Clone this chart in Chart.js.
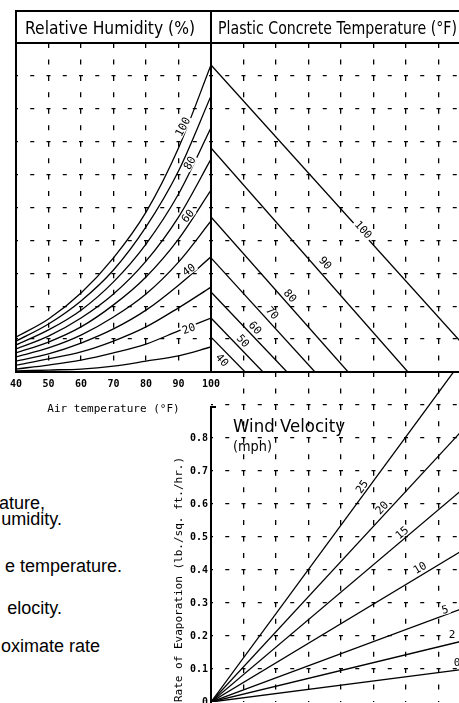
<!DOCTYPE html>
<html>
<head>
<meta charset="utf-8">
<script src="https://cdn.jsdelivr.net/npm/chart.js@4.4.1/dist/chart.umd.min.js"></script>
<style>
  html, body { margin: 0; padding: 0; background: #fff; }
  body { width: 459px; height: 703px; position: relative; overflow: hidden; }
  canvas { position: absolute; }
  .rule { position: absolute; background: #000; }
  .lbl { position: absolute; white-space: nowrap; color: #000; line-height: 1;
         font-family: "DejaVu Sans", sans-serif; transform-origin: 0 0; }
  .note { position: absolute; white-space: nowrap; color: #000; line-height: 1;
          font-family: "Liberation Sans", Arial, sans-serif; font-size: 18px; }
</style>
</head>
<body>
<canvas id="rh" width="230" height="430" style="left:0;top:0"></canvas>
<canvas id="pc" width="271" height="430" style="left:200px;top:0"></canvas>
<canvas id="wind" width="321" height="360" style="left:150px;top:360px"></canvas>

<!-- frames -->
<div class="rule" style="left:15px;top:10px;width:450px;height:2px"></div>
<div class="rule" style="left:15px;top:42px;width:450px;height:1.6px"></div>
<div class="rule" style="left:15px;top:10px;width:2px;height:363px"></div>
<div class="rule" style="left:210px;top:10px;width:1.8px;height:363px"></div>
<div class="rule" style="left:15px;top:371px;width:450px;height:2px"></div>
<div class="rule" style="left:210px;top:406px;width:1.8px;height:300px"></div>
<div class="rule" style="left:210px;top:406px;width:6px;height:1.5px"></div>

<div class="lbl" data-w="170" style="left:25px;top:20px;font-size:17px">Relative Humidity (%)</div>
<div class="lbl" data-w="239" style="left:218px;top:20px;font-size:17px">Plastic Concrete Temperature (°F)</div>
<div class="lbl" data-w="112" style="left:233px;top:418px;font-size:17px">Wind Velocity</div>
<div class="lbl" data-w="39" style="left:233px;top:439px;font-size:14px">(mph)</div>

<div class="note" style="right:414px;top:494px">ature,</div>
<div class="note" style="right:397px;top:510px">umidity.</div>
<div class="note" style="right:337px;top:557px">e temperature.</div>
<div class="note" style="right:397px;top:599px">elocity.</div>
<div class="note" style="right:359px;top:637px">oximate rate</div>

<script>
// ---- data ----
// top-left: relative humidity curves, y = vapour pressure level (grid units of 0.1)
const airTemps = [40, 50, 60, 70, 80, 90, 100];
const rhLevels = [100, 90, 80, 70, 60, 50, 40, 30, 20, 10];
const rh100 = [0.106, 0.161, 0.240, 0.347, 0.486, 0.681, 0.933];
const rh90  = [0.094, 0.146, 0.216, 0.310, 0.441, 0.611, 0.839];
const rh80  = [0.082, 0.128, 0.188, 0.274, 0.389, 0.541, 0.742];
const rh70  = [0.070, 0.109, 0.164, 0.237, 0.337, 0.471, 0.647];
const rh60  = [0.058, 0.091, 0.137, 0.204, 0.289, 0.404, 0.553];
const rh50  = [0.046, 0.073, 0.112, 0.167, 0.237, 0.334, 0.459];
const rh40  = [0.033, 0.055, 0.088, 0.131, 0.188, 0.264, 0.350];
const rh30  = [0.021, 0.040, 0.061, 0.094, 0.137, 0.195, 0.258];
const rh20  = [0.009, 0.021, 0.036, 0.058, 0.085, 0.125, 0.164];
const rh10  = [0.003, 0.006, 0.009, 0.018, 0.033, 0.049, 0.076];
const rhCurves = [rh100, rh90, rh80, rh70, rh60, rh50, rh40, rh30, rh20, rh10];

const rhLabelText = ['100', '80', '60', '40', '20'];
const rhLabelT    = [91.4, 93.5, 92.9, 93.2, 93.2];
const rhLabelV    = [0.745, 0.635, 0.474, 0.310, 0.131];

// top-right: plastic concrete temperature lines (start on left edge, end on bottom axis)
const concreteTemps = [40, 50, 60, 70, 80, 90, 100];
const concreteStart = [0.106, 0.164, 0.243, 0.347, 0.471, 0.681, 0.933];
const concreteEnd   = [0.105, 0.160, 0.234, 0.320, 0.422, 0.606, 0.852];
const concreteLabelX = [0.034, 0.098, 0.135, 0.188, 0.243, 0.351, 0.468];
const concreteLabelY = [0.036, 0.094, 0.134, 0.179, 0.231, 0.331, 0.432];

// bottom: wind velocity rays from the origin, rate of evaporation at x = 0.8
const windSpeeds = [0, 2, 5, 10, 15, 20, 25];
const windRateAt08 = [0.102, 0.191, 0.293, 0.475, 0.666, 0.852, 1.072];
const windLabelX = [0.757, 0.742, 0.720, 0.643, 0.588, 0.526, 0.465];
const windLabelY = [0.118, 0.203, 0.279, 0.406, 0.512, 0.588, 0.652];

const rateTicks = [0, 0.1, 0.2, 0.3, 0.4, 0.5, 0.6, 0.7, 0.8];

// ---- chart setup ----
Chart.defaults.font.family = '"DejaVu Sans Mono", monospace';
Chart.defaults.color = '#000';
Chart.defaults.animation = false;

const HDASH = [4, 12.25];
const VDASH = [5, 11.45];

function between(lo, hi) {
  return c => (c.tick && c.tick.value > lo && c.tick.value < hi) ? '#000' : 'rgba(0,0,0,0)';
}

const curveLabels = {
  id: 'curveLabels',
  afterDatasetsDraw(chart, args, opts) {
    const {ctx, scales} = chart;
    ctx.save();
    ctx.font = opts.font;
    ctx.textAlign = 'center';
    ctx.textBaseline = 'middle';
    opts.items.forEach(it => {
      const px = scales.x.getPixelForValue(it.x);
      const py = scales.y.getPixelForValue(it.y);
      ctx.save();
      ctx.translate(px, py);
      ctx.rotate(it.angle * Math.PI / 180);
      const w = ctx.measureText(it.text).width;
      ctx.fillStyle = '#fff';
      ctx.fillRect(-w / 2 - 1.5, -4.5, w + 3, 9);
      ctx.fillStyle = '#000';
      ctx.fillText(it.text, 0, 0.5);
      ctx.restore();
    });
    ctx.restore();
  }
};

function lineSet(points) {
  return {
    data: points, showLine: true, borderColor: '#000', borderWidth: 1.3,
    pointRadius: 0, fill: false
  };
}

// top-left chart
new Chart(document.getElementById('rh'), {
  type: 'scatter',
  data: {
    datasets: rhCurves.map(vals => Object.assign(lineSet(airTemps.map((t, i) => ({x: t, y: vals[i]}))),
      {cubicInterpolationMode: 'monotone'}))
  },
  options: {
    responsive: false,
    layout: {padding: {left: 16, right: 19, top: 43, bottom: 0}},
    plugins: {
      legend: {display: false}, tooltip: {enabled: false},
      curveLabels: {
        font: '11px "DejaVu Sans Mono"',
        items: rhLabelText.map((t, i) => ({text: t, x: rhLabelT[i], y: rhLabelV[i], angle: [-62, -60, -50, -35, -20][i]}))
      }
    },
    scales: {
      x: {
        type: 'linear', min: 40, max: 100,
        ticks: {stepSize: 10, padding: 6, autoSkip: false, maxRotation: 0, font: {size: 10, weight: 'bold'}},
        grid: {color: between(45, 95), lineWidth: 1.3, drawTicks: false},
        border: {display: false, dash: VDASH, dashOffset: 0},
        title: {display: true, text: 'Air temperature (°F)', font: {size: 11}, padding: {top: 0, bottom: 14}},
        afterFit: s => { s.height = 58; }
      },
      y: {
        type: 'linear', min: 0, max: 1.0,
        ticks: {stepSize: 0.1, display: false},
        grid: {color: between(0.05, 0.95), lineWidth: 1.3, drawTicks: false},
        border: {display: false, dash: HDASH, dashOffset: 2},
        afterFit: s => { s.width = 0; }
      }
    }
  },
  plugins: [curveLabels]
});

// top-right chart
new Chart(document.getElementById('pc'), {
  type: 'scatter',
  data: {
    datasets: concreteTemps.map((t, i) => lineSet([{x: 0, y: concreteStart[i]}, {x: concreteEnd[i], y: 0}]))
  },
  options: {
    responsive: false,
    layout: {padding: {left: 11, right: 0, top: 43, bottom: 0}},
    plugins: {
      legend: {display: false}, tooltip: {enabled: false},
      curveLabels: {
        font: '11px "DejaVu Sans Mono"',
        items: concreteTemps.map((t, i) => ({text: String(t), x: concreteLabelX[i], y: concreteLabelY[i], angle: 48}))
      }
    },
    scales: {
      x: {
        type: 'linear', min: 0, max: 0.8,
        ticks: {stepSize: 0.1, display: false},
        grid: {color: between(0.05, 0.75), lineWidth: 1.3, drawTicks: false},
        border: {display: false, dash: VDASH, dashOffset: 0},
        afterFit: s => { s.height = 58; }
      },
      y: {
        type: 'linear', min: 0, max: 1.0,
        ticks: {stepSize: 0.1, display: false},
        grid: {color: between(0.05, 0.95), lineWidth: 1.3, drawTicks: false},
        border: {display: false, dash: HDASH, dashOffset: 2},
        afterFit: s => { s.width = 0; }
      }
    }
  },
  plugins: [curveLabels]
});

// bottom chart
new Chart(document.getElementById('wind'), {
  type: 'scatter',
  data: {
    datasets: windSpeeds.map((w, i) => lineSet([{x: 0, y: 0}, {x: 0.8, y: windRateAt08[i]}]))
  },
  options: {
    responsive: false,
    layout: {padding: {left: 0, right: 0, top: 12, bottom: 0}},
    plugins: {
      legend: {display: false}, tooltip: {enabled: false},
      curveLabels: {
        font: '11px "DejaVu Sans Mono"',
        items: windSpeeds.map((w, i) => ({text: String(w), x: windLabelX[i], y: windLabelY[i], angle: [0, 0, -15, -31, -40, -47, -54][i]}))
      }
    },
    scales: {
      x: {
        type: 'linear', min: 0, max: 0.8,
        ticks: {stepSize: 0.1, display: false},
        grid: {color: between(0.05, 0.75), lineWidth: 1.3, drawTicks: false},
        border: {display: false, dash: VDASH, dashOffset: 0},
        afterFit: s => { s.height = 18; }
      },
      y: {
        type: 'linear', min: 0, max: 1.0,
        ticks: {
          stepSize: 0.1, padding: 3, font: {size: 10, weight: 'bold'},
          callback: v => {
            const t = rateTicks.find(r => Math.abs(r - v) < 1e-6);
            if (t === undefined) return '';
            return t === 0 ? '0' : t.toFixed(1);
          }
        },
        grid: {color: between(0.05, 0.95), lineWidth: 1.3, drawTicks: false},
        border: {display: false, dash: HDASH, dashOffset: 2},
        title: {display: true, text: 'Rate of Evaporation (lb./sq. ft./hr.)', align: 'start',
                font: {size: 11}, padding: {top: 23, bottom: 0}},
        afterFit: s => { s.width = 61; }
      }
    }
  },
  plugins: [curveLabels]
});

// squeeze the header texts to the widths they have in the drawing
document.querySelectorAll('.lbl').forEach(el => {
  const target = Number(el.dataset.w);
  const w = el.getBoundingClientRect().width;
  if (w > 0) el.style.transform = 'scaleX(' + (target / w) + ')';
});
</script>
</body>
</html>
